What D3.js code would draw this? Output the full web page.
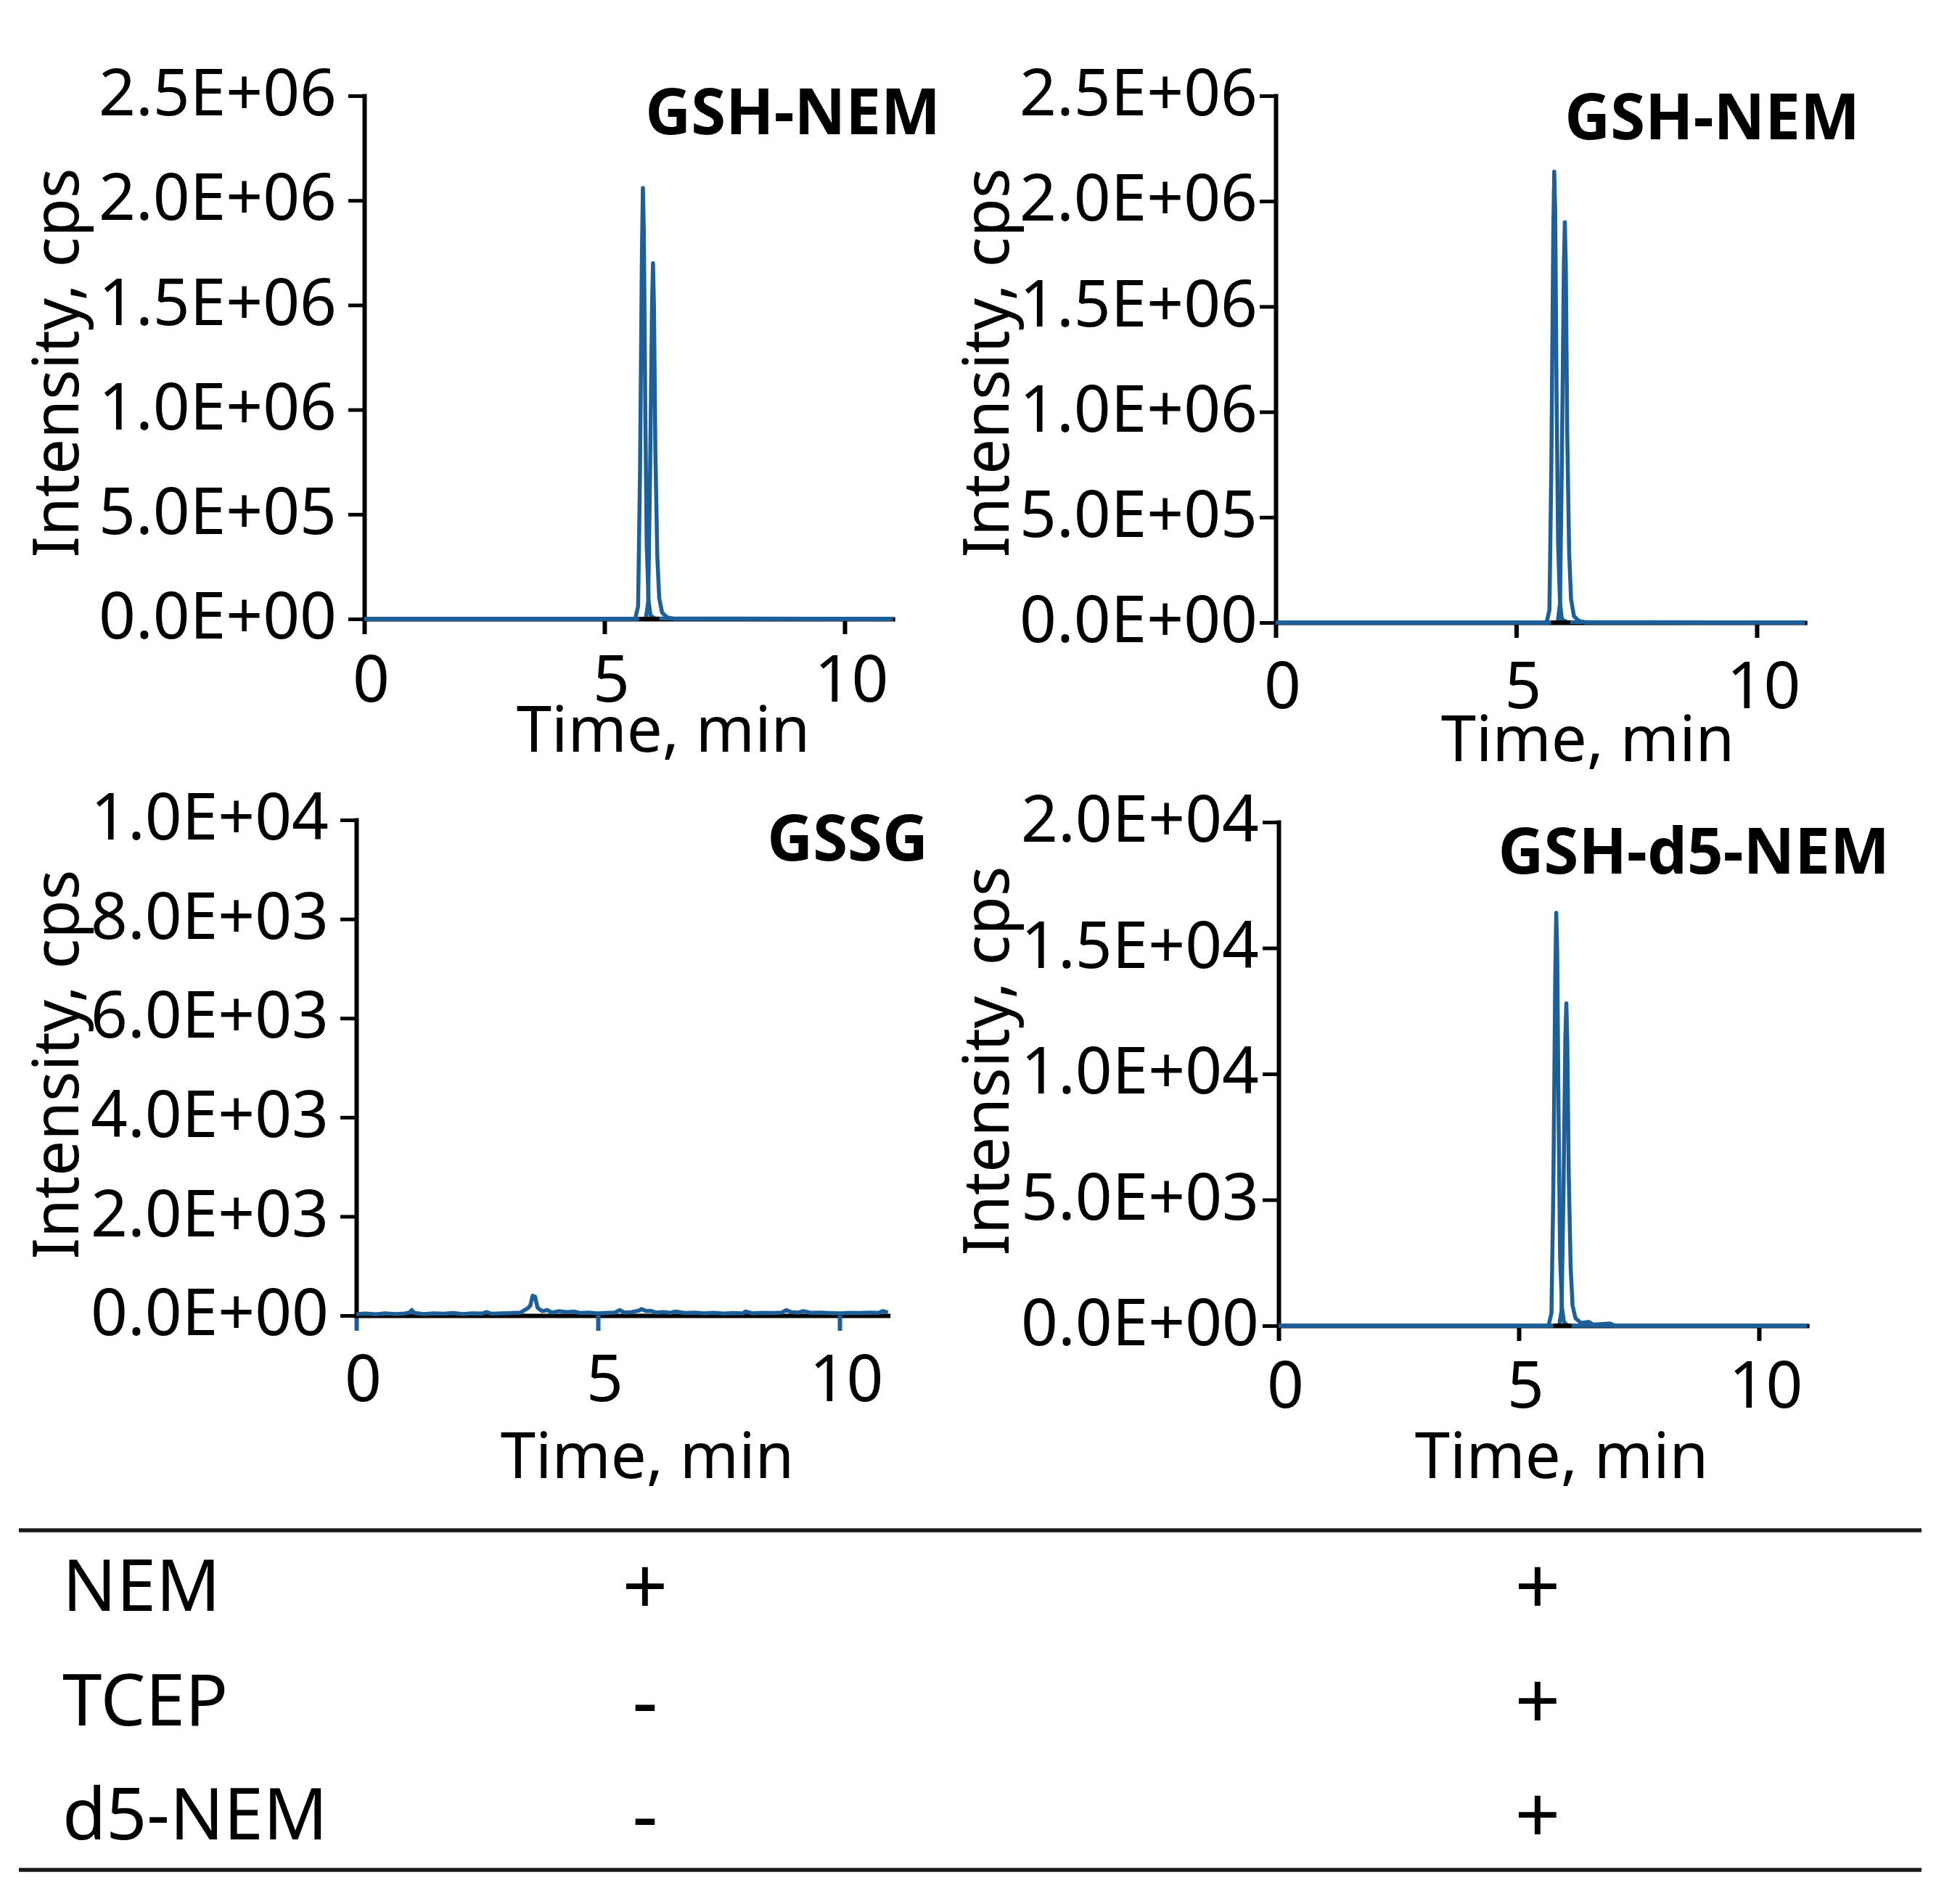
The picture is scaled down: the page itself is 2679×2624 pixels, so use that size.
<!DOCTYPE html>
<html><head><meta charset="utf-8">
<script src="https://cdn.jsdelivr.net/npm/d3@7/dist/d3.min.js"></script>
<style>
html,body{margin:0;padding:0;background:#fff;}
svg text{font-family:"Noto Sans","Open Sans",sans-serif;fill:#000;}
</style></head>
<body>
<svg id="chart" width="2679" height="2624"></svg>
<script>
// ---------- data ----------
const xTicks = [0, 5, 10];
const yTicksGSH = [0, 500000, 1000000, 1500000, 2000000, 2500000];
const yTicksGSSG = [0, 2000, 4000, 6000, 8000, 10000];
const yTicksD5 = [0, 5000, 10000, 15000, 20000];

const panelTitles = ["GSH-NEM", "GSH-NEM", "GSSG", "GSH-d5-NEM"];

// Panel 1 (NEM only) GSH-NEM: two XIC peaks
const p1PeakA = [[0,0],[5.64,0],[5.70,60000],[5.74,700000],[5.78,1750000],[5.80,2060000],[5.82,1850000],[5.85,1000000],[5.88,350000],[5.92,80000],[5.96,15000],[6.05,3000],[11,0]];
const p1PeakB = [[0,0],[5.86,0],[5.91,80000],[5.95,700000],[5.99,1500000],[6.01,1700000],[6.03,1500000],[6.06,800000],[6.10,300000],[6.14,100000],[6.20,30000],[6.30,8000],[6.45,0],[11,0]];
// Panel 2 (NEM+TCEP+d5-NEM) GSH-NEM
const p2PeakA = [[0,0],[5.63,0],[5.69,60000],[5.73,750000],[5.77,1850000],[5.79,2140000],[5.81,1950000],[5.84,1050000],[5.87,380000],[5.91,90000],[5.95,15000],[6.05,3000],[11,0]];
const p2PeakB = [[0,0],[5.86,0],[5.91,90000],[5.95,800000],[5.99,1700000],[6.01,1900000],[6.03,1700000],[6.06,900000],[6.10,330000],[6.14,110000],[6.20,30000],[6.30,8000],[6.45,0],[11,0]];
// Panel 3 GSSG: noisy baseline
const p3Trace = [[0,30],[0.2,40],[0.4,25],[0.6,45],[0.8,30],[1.0,40],[1.1,60],[1.15,110],[1.2,50],[1.4,30],[1.6,45],[1.8,35],[2.0,50],[2.2,30],[2.4,45],[2.6,40],[2.7,70],[2.8,35],[3.0,45],[3.2,50],[3.4,60],[3.5,120],[3.55,150],[3.6,200],[3.65,400],[3.7,380],[3.75,160],[3.8,120],[3.85,90],[3.95,110],[4.05,60],[4.2,90],[4.35,70],[4.5,80],[4.65,50],[4.8,60],[5.0,45],[5.2,55],[5.35,60],[5.45,110],[5.55,60],[5.7,70],[5.85,100],[5.9,130],[6.0,90],[6.1,95],[6.2,60],[6.35,70],[6.5,55],[6.6,80],[6.8,50],[7.0,60],[7.2,45],[7.4,55],[7.6,40],[7.8,50],[8.0,45],[8.05,80],[8.2,45],[8.4,55],[8.6,50],[8.8,60],[8.9,110],[9.0,70],[9.15,60],[9.25,90],[9.4,55],[9.6,60],[9.8,50],[10.0,45],[10.2,55],[10.4,50],[10.6,60],[10.8,55],[10.9,90],[11.0,60]];
// Panel 4 GSH-d5-NEM
const p4PeakA = [[0,0],[5.62,0],[5.68,500],[5.72,5500],[5.76,14000],[5.78,16400],[5.80,14800],[5.83,8000],[5.86,2800],[5.90,700],[5.94,150],[6.02,0],[11,0]];
const p4PeakB = [[0,0],[5.84,0],[5.89,600],[5.93,5200],[5.97,11500],[5.99,12800],[6.01,11300],[6.04,6000],[6.08,2300],[6.12,800],[6.18,300],[6.30,100],[6.46,150],[6.55,40],[6.90,90],[7.0,0],[11,0]];

// integration baseline segments (min)
const intSeg1 = [5.72, 6.14];
const intSeg2 = [5.72, 6.12];
const intSeg4 = [5.72, 6.10];

// table
const tableRows = ["NEM", "TCEP", "d5-NEM"];
const tableCol1 = ["+", "-", "-"];
const tableCol2 = ["+", "+", "+"];

// ---------- drawing ----------
const svg = d3.select("#chart");
svg.append("rect").attr("width", 2679).attr("height", 2624).attr("fill", "#fff");

const BLUE = "#1d5f98";
const FS = 87;
const TFS = 89;

function fmtE(v){
  const s = v.toExponential(1).split("e");
  const sign = s[1][0];
  const d = s[1].slice(1).padStart(2, "0");
  return s[0] + "E" + sign + d;
}

const panels = [
  {x0:502, x10:1164, yTop:132, yZero:853, ymax:2500000, ticks:yTicksGSH, traces:[p1PeakA,p1PeakB], seg:intSeg1, pad:16,
   title:panelTitles[0], tx:1296, ty:185, xtX:914, xtY:1036, ytX:108, ytY:500, xLabY:114, xTickColor:"#000"},
  {x0:1758, x10:2421, yTop:132, yZero:858, ymax:2500000, ticks:yTicksGSH, traces:[p2PeakA,p2PeakB], seg:intSeg2, pad:3,
   title:panelTitles[1], tx:2563, ty:192, xtX:2188, xtY:1049, ytX:1390, ytY:500, xLabY:118, xTickColor:"#000"},
  {x0:491, x10:1157, yTop:1130, yZero:1813, ymax:10000, ticks:yTicksGSSG, traces:[p3Trace], seg:null, pad:16,
   title:panelTitles[2], tx:1279, ty:1186, xtX:892, xtY:2037, ytX:108, ytY:1467, xLabY:118, xTickColor:BLUE},
  {x0:1762, x10:2424, yTop:1133, yZero:1827, ymax:20000, ticks:yTicksD5, traces:[p4PeakA,p4PeakB], seg:intSeg4, pad:5,
   title:panelTitles[3], tx:2604, ty:1204, xtX:2152, xtY:2037, ytX:1390, ytY:1462, xLabY:113, xTickColor:"#000"}
];

panels.forEach(p => {
  const pxPerMin = (p.x10 - p.x0) / 10;
  const x = d3.scaleLinear().domain([0, 11]).range([p.x0, p.x0 + 11 * pxPerMin]);
  const y = d3.scaleLinear().domain([0, p.ymax]).range([p.yZero, p.yTop]);
  const g = svg.append("g");

  // x axis
  const xa = g.append("g").attr("transform", `translate(0,${p.yZero})`)
    .call(d3.axisBottom(x).tickValues(xTicks).tickSize(21).tickSizeOuter(0).tickFormat(d3.format("d")));
  xa.select(".domain").attr("stroke", "#000").attr("stroke-width", 6);
  xa.selectAll(".tick line").attr("stroke", p.xTickColor).attr("stroke-width", 6);
  xa.selectAll(".tick text").attr("y", p.xLabY).attr("dy", 0).attr("dx", 9)
    .style("font-size", TFS + "px").attr("fill", "#000");

  // y axis
  const ya = g.append("g").attr("transform", `translate(${p.x0},0)`)
    .call(d3.axisLeft(y).tickValues(p.ticks).tickSize(22).tickPadding(p.pad).tickSizeOuter(0).tickFormat(fmtE));
  ya.select(".domain").attr("stroke", "#000").attr("stroke-width", 6);
  ya.selectAll(".tick line").attr("stroke", "#000").attr("stroke-width", 5);
  ya.selectAll(".tick text").style("font-size", TFS + "px").attr("fill", "#000").attr("dy", "0.3em");
  g.selectAll(".domain").attr("stroke-linecap", "square");

  // traces
  const line = d3.line().x(d => x(d[0])).y(d => y(d[1]));
  p.traces.forEach(tr => {
    g.append("path").datum(tr).attr("d", line)
      .attr("fill", "none").attr("stroke", BLUE).attr("stroke-width", 5.5).attr("stroke-linejoin", "round");
  });
  if (p.seg) {
    g.append("line").attr("x1", x(p.seg[0])).attr("x2", x(p.seg[1]))
      .attr("y1", y(0)).attr("y2", y(0)).attr("stroke", "#000").attr("stroke-width", 6);
  }

  // titles
  g.append("text").attr("x", p.tx).attr("y", p.ty).attr("text-anchor", "end")
    .style("font-size", FS + "px").style("font-weight", "bold").text(p.title);
  g.append("text").attr("x", p.xtX).attr("y", p.xtY).attr("text-anchor", "middle")
    .style("font-size", FS + "px").text("Time, min");
  g.append("text").attr("transform", `translate(${p.ytX},${p.ytY}) rotate(-90)`).attr("text-anchor", "middle")
    .style("font-size", FS + "px").text("Intensity, cps");
});

// table
const tableY = d3.scalePoint().domain(tableRows).range([2220, 2535]);
const tg = svg.append("g");
[2109, 2577].forEach(yy => {
  tg.append("line").attr("x1", 26).attr("x2", 2648).attr("y1", yy).attr("y2", yy)
    .attr("stroke", "#1a1a1a").attr("stroke-width", 5.5);
});
tableRows.forEach((r, i) => {
  tg.append("text").attr("x", 86).attr("y", tableY(r)).style("font-size", "98px").text(r);
  tg.append("text").attr("x", 889).attr("y", tableY(r) + 5).attr("text-anchor", "middle").style("font-size", "110px").text(tableCol1[i]);
  tg.append("text").attr("x", 2119).attr("y", tableY(r) + 5).attr("text-anchor", "middle").style("font-size", "110px").text(tableCol2[i]);
});
</script>
</body></html>
